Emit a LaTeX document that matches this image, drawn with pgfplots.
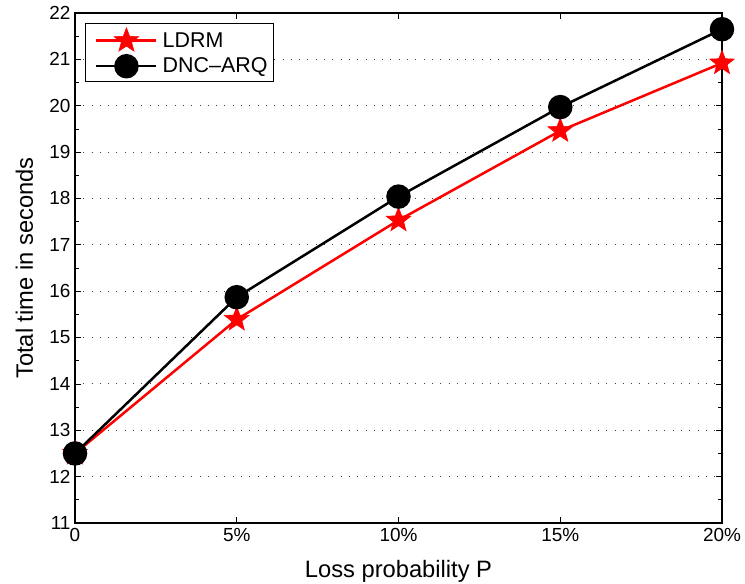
\documentclass[border=0pt]{standalone}
\usepackage{pgfplots}
\pgfplotsset{compat=1.18}
\usepackage{fontspec}
\setmainfont{Liberation Sans}
\newcommand{\tfont}{\fontsize{19}{22}\selectfont}
\newcommand{\lfont}{\fontsize{21.5}{24}\selectfont}
\pgfdeclareplotmark{fstar}{%
 \pgfpathmoveto{\pgfpointpolar{90}{\pgfplotmarksize}}%
 \pgfpathlineto{\pgfpointpolar{126}{0.42\pgfplotmarksize}}%
 \pgfpathlineto{\pgfpointpolar{162}{\pgfplotmarksize}}%
 \pgfpathlineto{\pgfpointpolar{198}{0.42\pgfplotmarksize}}%
 \pgfpathlineto{\pgfpointpolar{234}{\pgfplotmarksize}}%
 \pgfpathlineto{\pgfpointpolar{270}{0.42\pgfplotmarksize}}%
 \pgfpathlineto{\pgfpointpolar{306}{\pgfplotmarksize}}%
 \pgfpathlineto{\pgfpointpolar{342}{0.42\pgfplotmarksize}}%
 \pgfpathlineto{\pgfpointpolar{18}{\pgfplotmarksize}}%
 \pgfpathlineto{\pgfpointpolar{54}{0.42\pgfplotmarksize}}%
 \pgfpathclose\pgfusepathqfillstroke}
\begin{document}
\begin{tikzpicture}
\begin{axis}[
  scale only axis,
  width=647bp, height=510bp,
  xmin=0, xmax=20, ymin=11, ymax=22,
  xtick={0,5,10,15,20},
  xticklabels={{\tfont 0},{\tfont 5\%},{\tfont 10\%},{\tfont 15\%},{\tfont 20\%}},
  ytick={11,12,...,22},
  yticklabel={\tfont\pgfmathprintnumber{\tick}},
  minor y tick num=1,
  ymajorgrids,
  major grid style={black!75, line width=0.9pt, dash pattern=on 1bp off 7.3bp},
  tick style={black, line width=0.8pt},
  major tick length=6bp, minor tick length=4bp,
  axis line style={line width=1.2pt},
  tick align=inside,
  /pgf/number format/assume math mode=true,
  ticklabel style={font=\tfont},
  xticklabel style={yshift=-2bp},
  yticklabel style={xshift=-1bp},
  label style={font=\fontsize{23.8}{27}\selectfont},
  xlabel={Loss probability P},
  ylabel={Total time in seconds},
  xlabel style={at={(axis description cs:0.5,0)}, anchor=base, yshift=-54bp},
  ylabel style={at={(axis description cs:0,0.5)}, anchor=base, yshift=42bp},
  legend style={font=\lfont, draw=black, line width=1pt, at={(0.015,0.98)}, anchor=north west,
    inner xsep=4bp, inner ysep=4bp, row sep=4bp, column sep=3bp, nodes={inner sep=2bp}},
  legend cell align=left,
  legend image code/.code={%
    \path (0bp,0bp);
    \draw[mark repeat=2,mark phase=2] plot coordinates {(6bp,0bp) (36bp,0bp) (66bp,0bp)};},
]
\addplot[red, line width=2.5bp, mark=fstar, mark options={solid, fill=red, draw=red, line width=0.5pt}, mark size=13bp] coordinates {
(0,12.5) (5,15.39) (10,17.53) (15,19.46) (20,20.92)};
\addlegendentry{\lfont LDRM}
\addplot[black, line width=2.5bp, mark=*, mark options={solid, fill=black}, mark size=11bp] coordinates {
(0,12.5) (5,15.87) (10,18.04) (15,19.97) (20,21.65)};
\addlegendentry{\lfont DNC--ARQ}
\end{axis}
\pgfresetboundingbox
\path (current axis.south west) ++(-75bp,-61bp) rectangle ([xshift=23bp,yshift=13bp]current axis.north east);
\end{tikzpicture}
\end{document}
